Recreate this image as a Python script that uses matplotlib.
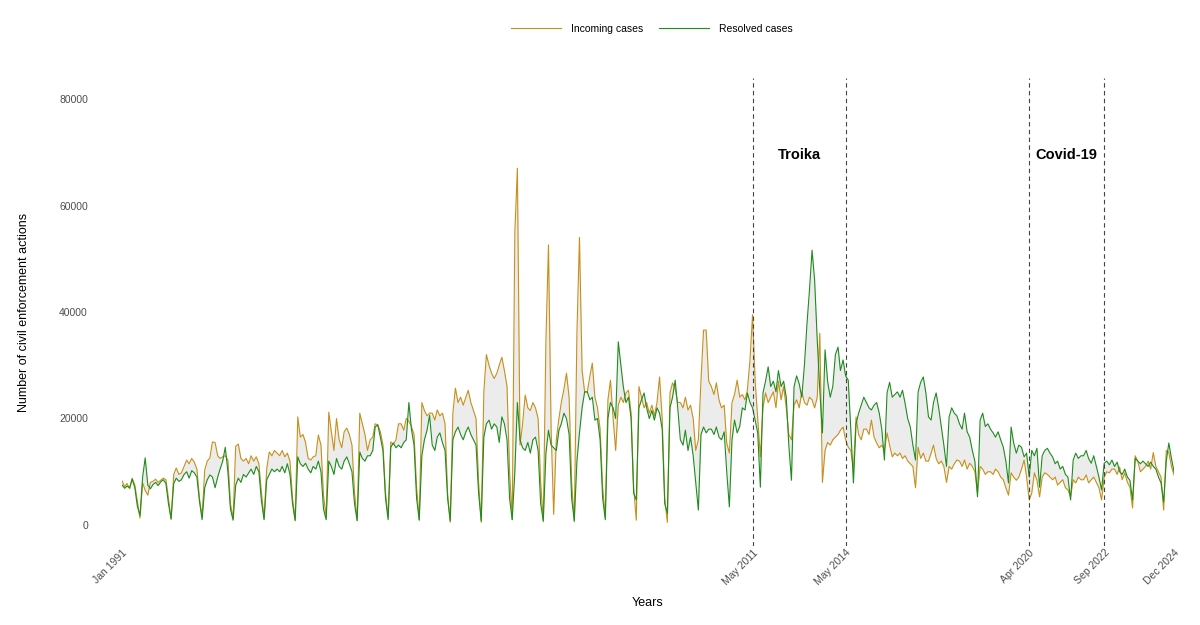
import matplotlib
matplotlib.use("Agg")
import matplotlib.pyplot as plt
import pandas as pd
import numpy as np

plt.rcParams['font.family'] = ['Liberation Sans', 'DejaVu Sans']

# monthly values, thousands of actions, Jan..Dec, one row per year 1991-2024
incoming = [
    8.3, 7.2, 7.8, 6.8, 8.8, 7.5, 4.5, 1.3, 7.9, 6.5, 5.6, 8.0,        # 1991
    8.2, 8.6, 8.0, 8.4, 8.8, 8.5, 5.0, 1.0, 9.5, 10.7, 9.5, 9.8,       # 1992
    11.0, 12.2, 11.5, 12.5, 11.8, 10.5, 5.0, 1.5, 10.3, 12.0, 12.6, 15.6,  # 1993
    15.5, 13.0, 12.5, 12.8, 13.0, 12.2, 4.0, 1.2, 14.8, 15.2, 12.5, 12.0,  # 1994
    12.5, 11.5, 13.0, 12.0, 12.8, 11.5, 6.0, 1.3, 10.5, 13.7, 13.0, 14.0,  # 1995
    13.5, 13.0, 14.0, 12.8, 13.5, 12.0, 5.0, 1.0, 20.3, 16.5, 17.0, 15.5,  # 1996
    12.5, 12.2, 12.8, 13.0, 16.9, 15.0, 5.5, 1.5, 21.2, 17.5, 14.0, 20.0,  # 1997
    16.0, 14.5, 17.5, 18.2, 17.0, 15.0, 6.0, 0.9, 21.0, 19.0, 17.0, 14.0,  # 1998
    16.0, 16.5, 19.0, 18.8, 17.5, 15.0, 6.0, 1.5, 15.6, 15.2, 16.0, 19.0,  # 1999
    19.0, 17.8, 20.0, 19.5, 18.5, 17.0, 7.0, 1.0, 23.0, 21.5, 20.5, 21.0,  # 2000
    21.0, 19.7, 21.6, 20.5, 21.0, 19.0, 6.0, 0.5, 21.0, 25.7, 23.0, 24.0,  # 2001
    22.5, 24.0, 25.3, 23.0, 21.5, 20.0, 8.0, 0.5, 25.0, 32.0, 30.0, 28.5,  # 2002
    27.5, 28.5, 30.0, 31.5, 29.0, 26.0, 10.0, 1.0, 55.0, 67.0, 15.0, 19.0,  # 2003
    24.4, 22.0, 21.5, 23.0, 22.0, 20.0, 8.0, 0.6, 34.7, 52.6, 18.0, 2.0,   # 2004
    16.0, 20.0, 23.0, 25.5, 28.5, 24.0, 8.0, 0.6, 36.0, 54.0, 29.0, 25.0,  # 2005
    25.0, 28.0, 30.4, 24.0, 22.0, 18.0, 7.0, 1.5, 23.5, 27.2, 20.0, 14.0,  # 2006
    22.5, 24.0, 23.0, 24.8, 25.3, 21.0, 7.0, 0.9, 26.0, 24.0, 22.0, 23.0,  # 2007
    21.0, 22.5, 20.5, 23.0, 27.8, 20.0, 5.0, 0.5, 24.8, 26.7, 25.5, 23.0,  # 2008
    23.0, 22.0, 24.0, 21.6, 22.5, 20.0, 14.0, 16.0, 27.2, 36.6, 36.6, 27.0,  # 2009
    26.0, 24.5, 26.7, 23.5, 22.0, 22.5, 15.4, 13.5, 23.0, 24.5, 27.2, 24.0,  # 2010
    24.5, 23.5, 25.3, 31.0, 39.5, 27.0, 20.0, 12.8, 22.0, 24.8, 23.0, 24.0,  # 2011
    25.0, 22.0, 27.0, 23.5, 26.0, 22.0, 17.0, 16.0, 22.5, 23.5, 22.0, 25.0,  # 2012
    23.0, 22.5, 24.0, 23.5, 22.0, 24.0, 36.0, 8.0, 14.0, 15.5, 15.0, 16.0,  # 2013
    16.5, 17.0, 17.8, 18.4, 16.0, 14.6, 14.0, 10.5, 20.3, 17.0, 16.0, 18.0,  # 2014
    18.0, 17.0, 19.7, 16.5, 15.4, 14.5, 15.0, 14.0, 17.3, 15.0, 12.8, 13.5,  # 2015
    13.0, 13.5, 12.5, 13.0, 12.0, 11.5, 11.0, 7.0, 14.6, 12.5, 13.5, 12.0,  # 2016
    12.0, 13.5, 15.0, 12.5, 11.5, 12.0, 11.0, 8.0, 11.0, 10.5, 11.5, 12.2,  # 2017
    12.0, 11.0, 12.2, 10.5, 11.6, 11.0, 10.0, 6.0, 11.0, 10.5, 9.5, 10.0,  # 2018
    10.0, 9.5, 10.5, 10.0, 9.0, 8.5, 7.0, 5.6, 9.8, 9.0, 8.4, 9.0,         # 2019
    10.5, 12.2, 9.0, 4.7, 6.0, 9.8, 8.4, 5.3, 9.0, 9.8, 9.5, 9.0,          # 2020
    8.5, 9.0, 7.5, 8.0, 8.5, 7.0, 6.6, 5.3, 8.5, 7.9, 9.0, 8.5,            # 2021
    8.5, 9.4, 7.9, 8.5, 9.0, 8.0, 7.0, 4.7, 9.0, 10.0, 9.8, 10.5,          # 2022
    10.5, 9.5, 10.9, 8.5, 9.8, 8.0, 7.1, 3.2, 13.0, 12.0, 10.0, 10.5,      # 2023
    11.0, 12.0, 10.5, 13.6, 11.0, 10.0, 9.0, 2.8, 14.0, 13.6, 11.0, 9.4,   # 2024
]

resolved = [
    7.5, 6.9, 7.3, 7.0, 8.6, 7.0, 3.5, 1.8, 9.0, 12.6, 7.5, 6.8,        # 1991
    7.6, 8.0, 7.4, 8.1, 8.5, 7.8, 4.0, 1.2, 7.8, 8.8, 8.2, 8.5,         # 1992
    9.5, 10.0, 8.8, 10.2, 9.8, 9.0, 4.5, 1.0, 7.0, 8.5, 9.4, 9.0,       # 1993
    7.0, 9.0, 10.5, 12.0, 14.6, 10.0, 3.0, 0.9, 7.5, 8.8, 8.0, 9.5,     # 1994
    9.0, 9.8, 10.5, 9.5, 11.0, 10.0, 4.5, 1.0, 8.5, 9.5, 10.5, 10.0,    # 1995
    10.5, 10.0, 11.0, 9.8, 11.5, 9.5, 4.0, 0.8, 12.8, 11.5, 11.0, 11.6,  # 1996
    10.5, 9.8, 11.0, 10.5, 12.0, 10.0, 3.0, 1.0, 12.0, 11.0, 9.5, 12.5,  # 1997
    11.0, 10.5, 12.0, 12.8, 11.5, 10.0, 4.0, 0.8, 13.7, 12.5, 12.0, 13.0,  # 1998
    13.0, 14.0, 18.4, 18.8, 16.5, 14.0, 5.0, 1.0, 14.6, 15.4, 14.5, 15.0,  # 1999
    14.5, 15.5, 16.0, 23.0, 18.0, 15.0, 5.0, 0.9, 13.0, 16.0, 17.8, 20.6,  # 2000
    15.0, 14.0, 16.5, 17.3, 15.5, 14.0, 5.0, 0.8, 16.0, 17.5, 18.4, 17.0,  # 2001
    16.0, 17.5, 18.4, 17.0, 16.0, 15.0, 6.0, 0.8, 16.5, 19.0, 19.7, 18.0,  # 2002
    19.0, 18.4, 15.5, 20.3, 19.0, 16.0, 5.0, 1.0, 10.0, 23.0, 16.0, 14.5,  # 2003
    14.0, 15.5, 13.5, 16.0, 16.5, 14.0, 4.0, 0.8, 13.5, 17.8, 15.0, 14.5,  # 2004
    14.0, 17.8, 19.0, 21.0, 20.0, 17.0, 5.0, 0.8, 12.0, 17.3, 22.0, 25.0,  # 2005
    25.0, 23.5, 24.0, 19.7, 20.0, 16.0, 5.0, 1.0, 20.0, 23.0, 22.0, 20.0,  # 2006
    34.4, 30.0, 26.0, 23.0, 24.0, 20.0, 6.0, 4.7, 22.0, 23.5, 24.8, 22.0,  # 2007
    20.0, 21.5, 19.7, 22.0, 21.0, 18.0, 4.0, 2.2, 22.0, 24.0, 27.2, 22.0,  # 2008
    16.0, 15.0, 17.8, 14.0, 16.5, 13.0, 8.0, 2.8, 17.0, 18.4, 17.3, 18.0,  # 2009
    18.0, 17.0, 18.4, 16.5, 16.0, 17.5, 10.0, 3.4, 16.0, 19.7, 17.3, 18.5,  # 2010
    22.0, 21.6, 24.8, 23.0, 22.0, 19.7, 17.3, 7.1, 24.8, 27.0, 29.7, 26.0,  # 2011
    27.0, 25.0, 29.0, 26.0, 27.0, 24.0, 15.0, 8.4, 26.0, 28.0, 26.5, 24.0,  # 2012
    30.0, 38.0, 44.0, 51.6, 46.0, 34.7, 25.3, 17.3, 32.9, 27.0, 24.0, 26.0,  # 2013
    32.0, 33.4, 29.0, 31.0, 28.0, 27.2, 18.0, 7.9, 19.0, 21.0, 22.5, 24.0,  # 2014
    23.0, 22.0, 21.6, 22.5, 23.0, 21.0, 18.0, 12.2, 24.8, 26.8, 24.0, 24.5,  # 2015
    25.0, 24.0, 25.3, 22.8, 20.0, 18.4, 15.0, 12.2, 25.0, 26.8, 27.8, 24.8,  # 2016
    20.3, 19.7, 23.0, 24.8, 22.0, 18.4, 15.0, 11.0, 20.3, 22.0, 21.0, 20.5,  # 2017
    19.0, 18.0, 21.0, 17.5, 16.5, 14.0, 12.0, 5.3, 19.7, 21.0, 18.5, 19.0,  # 2018
    18.0, 17.3, 16.5, 17.5, 16.0, 14.6, 12.0, 7.9, 18.4, 15.4, 13.5, 15.0,  # 2019
    14.6, 12.8, 13.5, 9.0, 14.0, 13.0, 14.4, 7.1, 13.0, 14.0, 14.4, 13.5,  # 2020
    12.8, 11.5, 12.0, 10.5, 11.0, 9.5, 9.0, 4.7, 12.2, 13.5, 12.5, 13.0,   # 2021
    13.0, 14.0, 12.5, 11.6, 13.0, 11.0, 9.0, 6.6, 11.6, 12.0, 11.3, 12.2,  # 2022
    11.0, 11.8, 10.0, 9.5, 10.5, 9.0, 8.4, 4.7, 12.5, 12.0, 11.5, 12.0,    # 2023
    11.5, 11.0, 11.8, 11.0, 10.5, 9.0, 7.9, 4.3, 12.0, 15.4, 12.5, 10.0,   # 2024
]

event_dates = ["2011-05-01", "2014-05-01", "2020-04-01", "2022-09-01"]
tick_dates = ["1991-01-01", "2011-05-01", "2014-05-01", "2020-04-01", "2022-09-01", "2024-12-01"]
tick_labels = ["Jan 1991", "May 2011", "May 2014", "Apr 2020", "Sep 2022", "Dec 2024"]
periods = [("Troika", "2011-05-01", "2014-05-01"), ("Covid-19", "2020-04-01", "2022-09-01")]

fechas = pd.date_range("1991-01-01", "2024-12-01", freq="MS")
inc = np.array(incoming) * 1000
res = np.array(resolved) * 1000

col_inc = "#C8901A"
col_res = "#1E8C1E"

fig = plt.figure(figsize=(12, 6.25), dpi=100)
ax = fig.add_axes([122 / 1200, 1 - 546.3 / 625, 1052 / 1200, 468.6 / 625])

ax.fill_between(fechas, inc, res, color="#ececec", linewidth=0)
ax.plot(fechas, inc, color=col_inc, lw=0.8, label="Incoming cases")
ax.plot(fechas, res, color=col_res, lw=0.8, label="Resolved cases")

for d in event_dates:
    ax.axvline(pd.Timestamp(d), color="#444444", lw=0.8, ls=(0, (4, 3)))

for nombre, a, b in periods:
    mid = pd.Timestamp(a) + (pd.Timestamp(b) - pd.Timestamp(a)) / 2
    ax.text(mid, 69500, nombre, ha="center", va="center", fontsize=10.5, fontweight="bold")

ax.set_xlim(fechas[0], fechas[-1])
ax.set_ylim(-4000, 84000)
ax.set_yticks([0, 20000, 40000, 60000, 80000])
ax.set_yticklabels(["0", "20000", "40000", "60000", "80000"])
ax.set_xticks([pd.Timestamp(d) for d in tick_dates])
ax.set_xticklabels(tick_labels, rotation=45, ha="right", va="top", rotation_mode="anchor")
ax.tick_params(axis="y", length=0, pad=24.5, labelsize=7.5, labelcolor="#4D4D4D")
ax.tick_params(axis="x", length=0, pad=1, labelsize=7.5, labelcolor="#4D4D4D")

for s in ax.spines.values():
    s.set_visible(False)
ax.grid(False)

ax.set_xlabel("Years", fontsize=9)
ax.set_ylabel("Number of civil enforcement actions", fontsize=9)
ax.yaxis.set_label_coords(-92 / 1052, 0.5)
ax.xaxis.set_label_coords(0.5, -(597 - 546.3) / 468.6)

fig.legend(loc="center", bbox_to_anchor=(652 / 1200, 1 - 28.5 / 625), ncol=2, frameon=False,
           fontsize=7.5, handlelength=4.8, handletextpad=1.0, columnspacing=1.5)

fig.savefig("out.png", dpi=100)
